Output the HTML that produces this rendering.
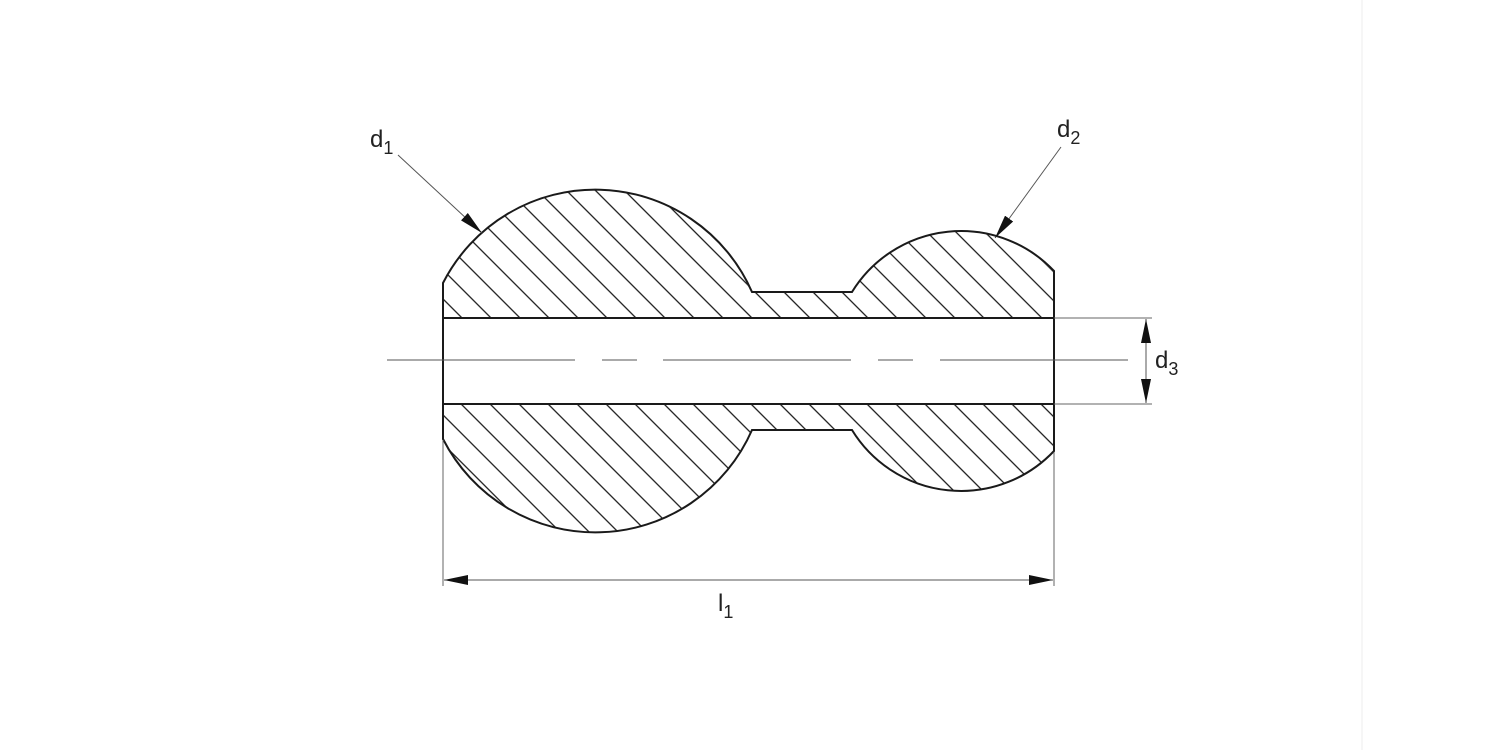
<!DOCTYPE html>
<html><head><meta charset="utf-8"><style>
html,body{margin:0;padding:0;background:#fff;}
svg{display:block;}
text{font-family:"Liberation Sans",Arial,sans-serif;fill:#222;}
</style></head><body>
<svg width="1500" height="750" viewBox="0 0 1500 750" xmlns="http://www.w3.org/2000/svg">
<defs>
<pattern id="h" patternUnits="userSpaceOnUse" width="20.5" height="20.5" patternTransform="rotate(45)">
<line x1="0" y1="0" x2="20.5" y2="0" stroke="#1a1a1a" stroke-width="2.4"/>
</pattern>
<marker id="a" viewBox="0 0 24 10" refX="24" refY="5" markerWidth="24" markerHeight="10" markerUnits="userSpaceOnUse" orient="auto">
<path d="M0,0 L24,5 L0,10 Z" fill="#111"/>
</marker>
</defs>
<rect width="1500" height="750" fill="#fff"/>
<line x1="1362" y1="0" x2="1362" y2="750" stroke="#eee" stroke-width="1"/>
<path d="M443,283 A171,171 0 0 1 752,292 L852,292 A128,128 0 0 1 1054,271 L1054,451 A128,128 0 0 1 852,430 L752,430 A171,171 0 0 1 443,439 Z" fill="url(#h)" stroke="#1a1a1a" stroke-width="2"/>
<rect x="443" y="318" width="611" height="86" fill="#fff" stroke="#1a1a1a" stroke-width="2"/>
<g stroke="#555" stroke-width="1">
<line x1="387" y1="360" x2="575" y2="360"/>
<line x1="602" y1="360" x2="637" y2="360"/>
<line x1="663" y1="360" x2="851" y2="360"/>
<line x1="878" y1="360" x2="913" y2="360"/>
<line x1="940" y1="360" x2="1128" y2="360"/>
</g>
<g stroke="#666" stroke-width="1">
<line x1="1054" y1="318" x2="1152" y2="318"/>
<line x1="1054" y1="404" x2="1152" y2="404"/>
<line x1="443" y1="440" x2="443" y2="586"/>
<line x1="1054" y1="452" x2="1054" y2="586"/>
</g>
<g stroke="#555" stroke-width="1">
<line x1="1146" y1="360" x2="1146" y2="319" marker-end="url(#a)"/>
<line x1="1146" y1="360" x2="1146" y2="403" marker-end="url(#a)"/>
<line x1="748" y1="580" x2="444" y2="580" marker-end="url(#a)"/>
<line x1="748" y1="580" x2="1053" y2="580" marker-end="url(#a)"/>
<line x1="398" y1="155" x2="482" y2="233" marker-end="url(#a)"/>
<line x1="1061" y1="147" x2="995" y2="238" marker-end="url(#a)"/>
</g>
<text x="370" y="147" font-size="24">d<tspan font-size="18" dy="7">1</tspan></text>
<text x="1057" y="137" font-size="24">d<tspan font-size="18" dy="7">2</tspan></text>
<text x="1155" y="368" font-size="24">d<tspan font-size="18" dy="7">3</tspan></text>
<text x="718" y="611" font-size="24">l<tspan font-size="18" dy="7">1</tspan></text>
</svg>
</body></html>
